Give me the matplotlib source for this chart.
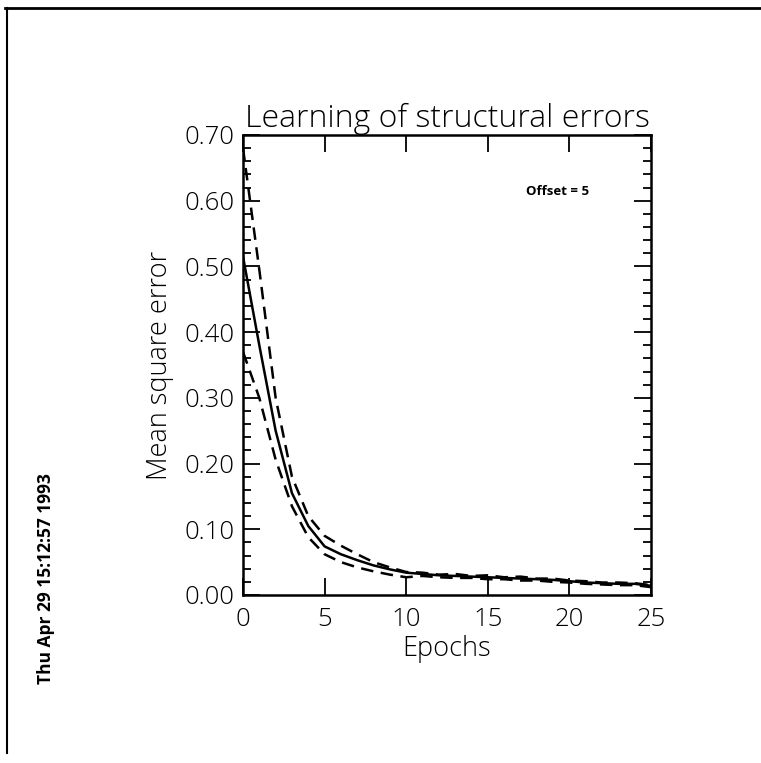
import numpy as np
import matplotlib
matplotlib.use("Agg")
import matplotlib.pyplot as plt
from matplotlib.ticker import MultipleLocator, FormatStrFormatter

# values
epochs = list(range(26))
mean_err = [0.515, 0.38, 0.25, 0.155, 0.105, 0.074, 0.062, 0.053, 0.045, 0.039,
            0.034, 0.032, 0.030, 0.029, 0.028, 0.027, 0.026, 0.025, 0.024, 0.023,
            0.021, 0.019, 0.018, 0.017, 0.017, 0.014]
upper_err = [0.68, 0.495, 0.30, 0.18, 0.12, 0.09, 0.075, 0.062, 0.050, 0.042,
             0.035, 0.034, 0.031, 0.032, 0.029, 0.030, 0.027, 0.028, 0.025, 0.025,
             0.022, 0.021, 0.019, 0.019, 0.018, 0.015]
lower_err = [0.37, 0.30, 0.206, 0.135, 0.088, 0.062, 0.050, 0.042, 0.036, 0.031,
             0.027, 0.029, 0.027, 0.026, 0.026, 0.024, 0.024, 0.022, 0.022, 0.020,
             0.019, 0.017, 0.016, 0.015, 0.015, 0.012]

title = "Learning of structural errors"
note = "Offset = 5"
stamp = "Thu Apr 29 15:12:57 1993"

plt.rcParams["font.family"] = ["Open Sans", "DejaVu Sans"]
thin = dict(fontweight="light")

fig = plt.figure(figsize=(7.61, 7.63), dpi=100)
ax = fig.add_axes([243 / 761, 168 / 763, 408 / 761, 460 / 763])

ax.plot(epochs, mean_err, color="black", lw=1.8)
ax.plot(epochs, upper_err, color="black", lw=1.8, dashes=(5, 3))
ax.plot(epochs, lower_err, color="black", lw=1.8, dashes=(5, 3))

ax.set_xlim(0, 25)
ax.set_ylim(0, 0.70)
ax.xaxis.set_major_locator(MultipleLocator(5))
ax.yaxis.set_major_locator(MultipleLocator(0.1))
ax.yaxis.set_minor_locator(MultipleLocator(0.02))
ax.yaxis.set_major_formatter(FormatStrFormatter("%.2f"))
ax.tick_params(which="both", direction="in", top=True, right=True, width=1.3)
ax.tick_params(which="major", length=12, labelsize=18.5, pad=6)
ax.tick_params(axis="x", which="major", pad=9)
ax.tick_params(which="minor", length=6)
for lab in ax.get_xticklabels() + ax.get_yticklabels():
    lab.set_fontweight("light")
for s in ax.spines.values():
    s.set_linewidth(1.8)

ax.set_title(title, fontsize=23, pad=4, **thin)
ax.set_xlabel("Epochs", fontsize=19.5, labelpad=2, **thin)
ax.set_ylabel("Mean square error", fontsize=19.5, labelpad=8, **thin)
ax.text(0.770, 0.877, note, transform=ax.transAxes, fontsize=9.5,
        fontweight="bold", ha="center", va="center")

fig.text(46 / 761, 1 - 579 / 763, stamp, rotation=90, fontsize=12.5,
         fontweight="bold", ha="center", va="center")

# page border from the scan
fig.add_artist(plt.Line2D([7 / 761, 7 / 761], [1 - 8 / 763, 1 - 753 / 763],
                          color="black", lw=1.5, transform=fig.transFigure))
fig.add_artist(plt.Line2D([5 / 761, 1.0], [1 - 8 / 763, 1 - 8 / 763],
                          color="black", lw=2, transform=fig.transFigure))

fig.savefig("out.png", dpi=100)
